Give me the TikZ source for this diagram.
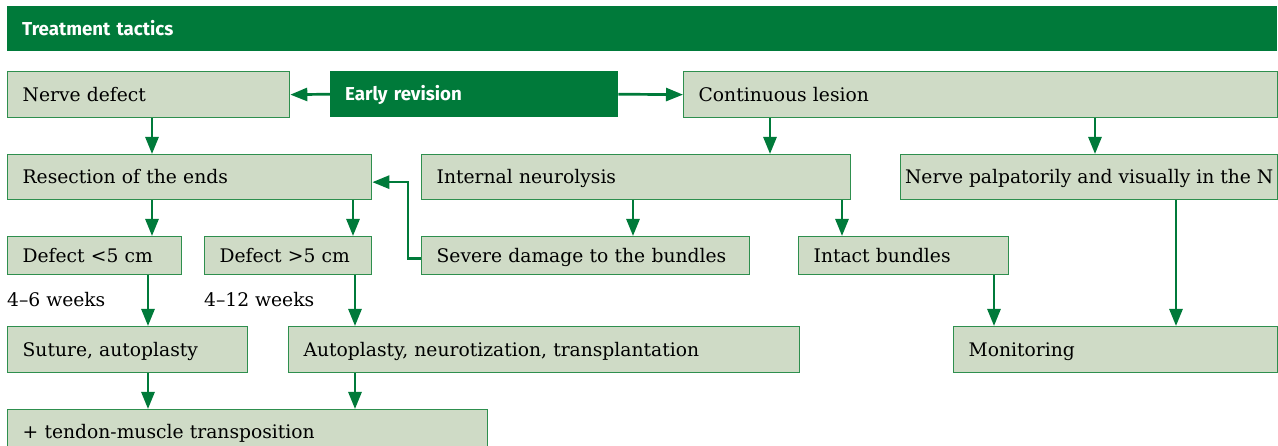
\documentclass[tikz,border=0pt]{standalone}
\usepackage{fontspec}
\setmainfont{DejaVu Serif}
\newfontfamily\headfont{Fira Sans}
\usetikzlibrary{arrows.meta}

\definecolor{darkgreen}{RGB}{0,122,58}
\definecolor{boxline}{RGB}{46,143,78}
\definecolor{boxfill}{RGB}{207,219,198}

\tikzset{
  box/.style={draw=boxline, fill=boxfill, line width=1.3pt, anchor=north west,
    inner xsep=15pt, inner ysep=0pt, align=left,
    font=\fontsize{18.7}{20}\selectfont, text height=13.6pt, text depth=0pt},
  darkbox/.style={fill=darkgreen, draw=none, anchor=north west,
    inner xsep=15pt, inner ysep=0pt, align=left, text=white,
    font=\headfont\bfseries\fontsize{18.7}{20}\selectfont, text height=13pt, text depth=0pt},
  note/.style={anchor=base west, inner sep=0pt, font=\fontsize{18.7}{20}\selectfont},
  arr/.style={draw=darkgreen, line width=2.7pt, -{Triangle[length=17pt,width=13pt]}},
}

% \bx{name}{left}{top}{text width}{height}{text}
\newcommand\bx[6]{\node[box, text width=#4pt, minimum height=#5pt] (#1) at (#2,#3) {\mbox{#6}};}

\begin{document}
\begin{tikzpicture}[x=1pt,y=-1pt]
  \fill[white] (0,0) rectangle (1278,446);
  \useasboundingbox (0,0) rectangle (1278,446);

  % title bar and the central decision box
  \node[darkbox, text width=1240pt, minimum height=45pt] (head) at (7,6) {Treatment tactics};
  \node[darkbox, text width=258pt, minimum height=46pt] (er) at (330,71) {Early revision};

  % first row
  \bx{nd}{7}{71}{252}{46}{Nerve defect}
  \bx{cl}{683}{71}{564}{46}{Continuous lesion}

  % second row
  \bx{re}{7}{154}{334}{45}{Resection of the ends}
  \bx{in}{421}{154}{399}{45}{Internal neurolysis}
  \node[box, align=center, inner xsep=0pt, minimum width=377pt, minimum height=45pt] (np) at (900,154)
    {Nerve palpatorily and visually in the N};

  % third row
  \bx{d5}{7}{236}{144}{38}{Defect <5 cm}
  \bx{d5b}{204}{236}{137}{38}{Defect >5 cm}
  \bx{sd}{421}{236}{298}{38}{Severe damage to the bundles}
  \bx{ib}{798}{236}{180}{38}{Intact bundles}

  % time notes
  \node[note] (w1) at (7,307) {4–6 weeks};
  \node[note] (w2) at (204,307) {4–12 weeks};

  % fourth row
  \bx{su}{7}{326}{210}{46}{Suture, autoplasty}
  \bx{au}{288}{326}{481}{46}{Autoplasty, neurotization, transplantation}
  \bx{mo}{953}{326}{294}{46}{Monitoring}

  % last row
  \bx{tt}{7}{409}{450}{44}{+ tendon-muscle transposition}

  % columns of the vertical connectors
  \coordinate (xa) at (152,0);
  \coordinate (xb) at (770,0);
  \coordinate (xc) at (1095,0);
  \coordinate (xd) at (353,0);
  \coordinate (xe) at (633,0);
  \coordinate (xf) at (842,0);
  \coordinate (xg) at (148,0);
  \coordinate (xh) at (355,0);
  \coordinate (xi) at (994,0);
  \coordinate (xj) at (1176,0);

  % connectors
  \draw[arr] (er.west) -- (nd.east);
  \draw[arr] (er.east) -- (cl.west);
  \draw[arr] (nd.south -| xa) -- (re.north -| xa);
  \draw[arr] (cl.south -| xb) -- (in.north -| xb);
  \draw[arr] (cl.south -| xc) -- (np.north -| xc);
  \draw[arr] (re.south -| xa) -- (d5.north -| xa);
  \draw[arr] (re.south -| xd) -- (d5b.north -| xd);
  \draw[arr] (in.south -| xe) -- (sd.north -| xe);
  \draw[arr] (in.south -| xf) -- (ib.north -| xf);
  \draw[arr] ([yshift=-3pt]sd.west) -- ++(-13,0) |- ([yshift=-5pt]re.east);
  \draw[arr] (d5.south -| xg) -- (su.north -| xg);
  \draw[arr] (d5b.south -| xh) -- (au.north -| xh);
  \draw[arr] (su.south -| xg) -- (tt.north -| xg);
  \draw[arr] (au.south -| xh) -- (tt.north -| xh);
  \draw[arr] (ib.south -| xi) -- (mo.north -| xi);
  \draw[arr] (np.south -| xj) -- (mo.north -| xj);
\end{tikzpicture}
\end{document}
